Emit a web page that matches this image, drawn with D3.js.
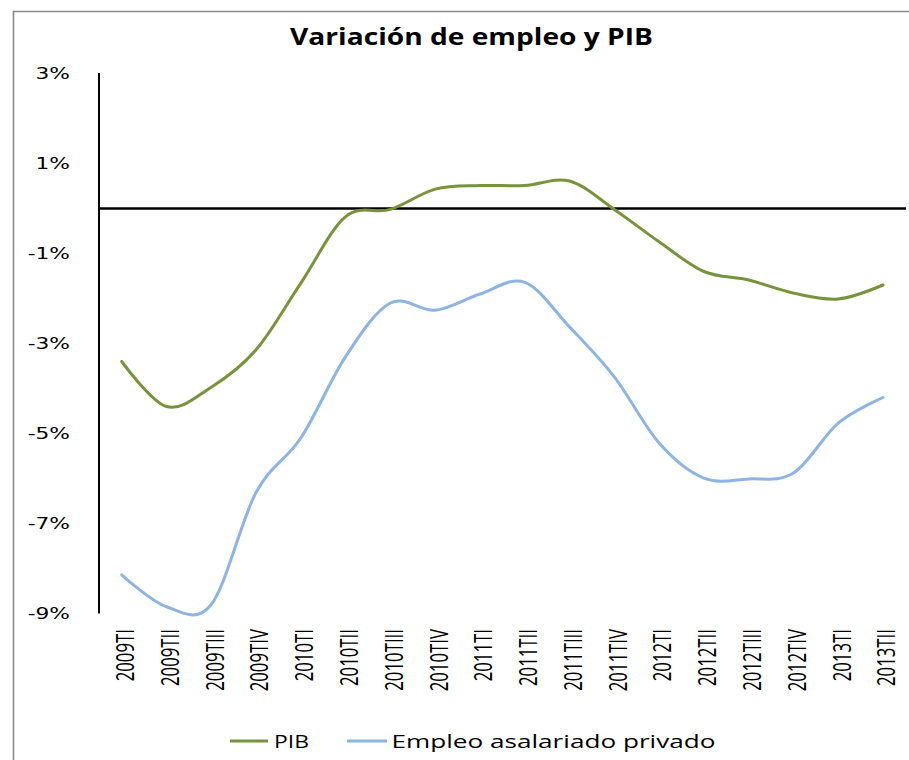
<!DOCTYPE html>
<html><head><meta charset="utf-8">
<script src="https://cdn.jsdelivr.net/npm/d3@7/dist/d3.min.js"></script>
<style>body{margin:0;background:#fff}svg{display:block}</style></head>
<body>
<svg id="c" width="909" height="760"></svg>
<script>
const categories = ["2009TI","2009TII","2009TIII","2009TIV","2010TI","2010TII","2010TIII","2010TIV",
  "2011TI","2011TII","2011TIII","2011TIV","2012TI","2012TII","2012TIII","2012TIV","2013TI","2013TII"];
const pib = [-3.40,-4.40,-3.97,-3.14,-1.66,-0.18,-0.02,0.43,0.51,0.51,0.61,-0.02,-0.74,-1.40,-1.59,-1.88,-2.01,-1.70];
const empleo = [-8.14,-8.85,-8.80,-6.31,-5.10,-3.29,-2.10,-2.26,-1.90,-1.64,-2.63,-3.74,-5.21,-5.99,-6.01,-5.88,-4.77,-4.20];
const yTicks = [3,1,-1,-3,-5,-7,-9];
const seriesNames = ["PIB","Empleo asalariado privado"];
const seriesColors = ["#77933C","#8EB4E3"];
const title = "Variación de empleo y PIB";

const svg = d3.select("#c");
const x = d3.scalePoint().domain(categories).range([99.3, 905.4]).padding(0.5);
const y = d3.scaleLinear().domain([-9, 3]).range([613.5, 73.5]);

// outer chart border (left and top only visible)
svg.append("path").attr("d","M13.5,760V11.5H909").attr("fill","none")
  .attr("stroke","#8a8a8a").attr("stroke-width",1.6);

// title
svg.append("text").attr("x",290).attr("y",44.5).text(title)
  .attr("font-family","'Open Sans', sans-serif").attr("font-weight","bold").attr("font-size",23)
  .attr("textLength",363).attr("lengthAdjust","spacingAndGlyphs").attr("fill","#000");

// y axis
const yAxis = d3.axisLeft(y).tickValues(yTicks).tickSize(0).tickFormat(d => d + "%");
const gy = svg.append("g").attr("transform","translate(99,0)").call(yAxis);
gy.select(".domain").remove();
gy.selectAll(".tick text").attr("x",null).attr("dy",null)
  .attr("transform","translate(-29,0) scale(1.45,1)")
  .attr("dy","0.36em")
  .attr("text-anchor","end")
  .attr("font-family","'DejaVu Sans', sans-serif").attr("font-size",15).attr("fill","#000");
svg.append("line").attr("x1",99).attr("x2",99).attr("y1",y(3)-0.5).attr("y2",y(-9))
  .attr("stroke","#000").attr("stroke-width",2);

// x axis labels
const xAxis = d3.axisBottom(x).tickSize(0);
const gx = svg.append("g").attr("transform","translate(0,629)").call(xAxis);
gx.select(".domain").remove();
gx.selectAll(".tick text").attr("y",null).attr("dy",null)
  .attr("transform","scale(1.5,1) rotate(-90)")
  .attr("x",0).attr("y",7.9)
  .attr("text-anchor","end")
  .attr("font-family","'Open Sans', sans-serif").attr("font-size",16.8).attr("fill","#000");

// zero line
svg.append("line").attr("x1",99).attr("x2",906).attr("y1",y(0)).attr("y2",y(0))
  .attr("stroke","#000").attr("stroke-width",2.6);

// series
const line = d3.line().x((d,i) => x(categories[i])).y(d => y(d)).curve(d3.curveCardinal.tension(0));
[pib, empleo].forEach((s, k) => {
  svg.append("path").datum(s).attr("d", line).attr("fill","none")
    .attr("stroke", seriesColors[k]).attr("stroke-width",3).attr("stroke-linecap","round");
});

// legend
const legendItems = [
  {lx1:230, lx2:268, tx:274, tl:35},
  {lx1:347, lx2:387, tx:391.5, tl:324}
];
legendItems.forEach((it, k) => {
  svg.append("line").attr("x1",it.lx1).attr("x2",it.lx2).attr("y1",741).attr("y2",741)
    .attr("stroke",seriesColors[k]).attr("stroke-width",3);
  svg.append("text").attr("x",it.tx).attr("y",747.5).text(seriesNames[k])
    .attr("font-family","'Open Sans', sans-serif").attr("font-size",19)
    .attr("textLength",it.tl).attr("lengthAdjust","spacingAndGlyphs").attr("fill","#000");
});
</script>
</body></html>
